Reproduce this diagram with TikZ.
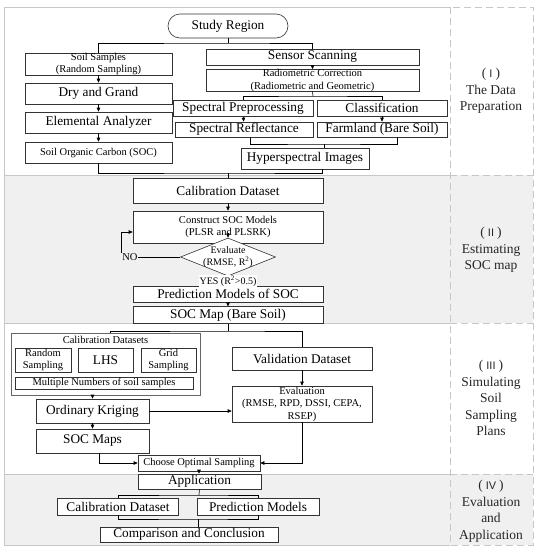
\documentclass[tikz,border=0pt]{standalone}
\usepackage{fontspec}
\setmainfont{Liberation Serif}
\setsansfont{Liberation Sans}
\usepackage{tikz}
\usetikzlibrary{arrows.meta,shapes.geometric}

\newcommand{\bigfont}{\fontsize{13.3}{15}\selectfont}
\newcommand{\smallfont}{\fontsize{10.5}{12.5}\selectfont}
\newcommand{\labfont}{\fontsize{13.5}{16.5}\selectfont}
\newcommand{\rnum}[1]{(\hspace{3pt}{\sffamily\fontsize{11}{11}\selectfont #1}\hspace{3pt})}

\tikzset{
    box/.style={draw=black!80, fill=white, line width=0.6pt, rectangle, inner sep=0pt, align=center},
    bigbox/.style={box, font=\bigfont},
    smallbox/.style={box, font=\smallfont},
    band/.style={draw=black!22, line width=1pt},
    tagcol/.style={draw=black!22, line width=1pt, dash pattern=on 7pt off 4pt},
    tagtext/.style={font=\labfont, align=center, text=black!85},
}

\begin{document}
\begin{tikzpicture}[x=1pt, y=-1pt, line width=0.6pt, >={Triangle[length=4pt,width=3.5pt]}]
    \useasboundingbox (0,0) rectangle (539,550);
    % bands
    \fill[white] (4,7) rectangle (533,175);
    \fill[black!6] (4,175) rectangle (533,323);
    \fill[white] (4,323) rectangle (533,474);
    \fill[black!6] (4,474) rectangle (533,545);
    \draw[band] (450,7) -- (4,7) -- (4,545) -- (450,545);
    \draw[band] (4,175) -- (450,175);
    \draw[band] (4,323) -- (450,323);
    \draw[band] (4,474) -- (450,474);
    \draw[tagcol] (450,7) rectangle (533,545);
    \draw[tagcol] (450,175) -- (533,175);
    \draw[tagcol] (450,323) -- (533,323);
    \draw[tagcol] (450,474) -- (533,474);

    \node[tagtext] (lab1) at (491,91) {\rnum{I}\\The Data\\Preparation};
    \node[tagtext] (lab2) at (491,250) {\rnum{II}\\Estimating\\SOC map};
    \node[tagtext] (lab3) at (491,398) {\rnum{III}\\Simulating\\Soil\\Sampling\\Plans};
    \node[tagtext] (lab4) at (491,511) {\rnum{IV}\\Evaluation\\and\\Application};

    % (I) data preparation
    \node[bigbox, rounded corners=12pt, minimum width=120pt, minimum height=24pt] (study) at (228,26) {Study Region};
    \node[smallbox, minimum width=147pt, minimum height=22pt] (soil) at (98.5,64) {Soil Samples\\(Random Sampling)};
    \node[bigbox, minimum width=147pt, minimum height=21pt] (dry) at (98.5,93.5) {Dry and Grand};
    \node[bigbox, minimum width=147pt, minimum height=21pt] (elem) at (98.5,122.5) {Elemental Analyzer};
    \node[smallbox, minimum width=147pt, minimum height=21pt] (soc) at (98.5,152.5) {Soil Organic Carbon (SOC)};
    \node[bigbox, minimum width=213pt, minimum height=16pt] (sensor) at (312.5,57) {Sensor Scanning};
    \node[smallbox, minimum width=213pt, minimum height=21pt] (radio) at (312.5,80.5) {Radiometric Correction\\(Radiometric and Geometric)};
    \node[bigbox, minimum width=140pt, minimum height=16pt] (sprep) at (243,108) {Spectral Preprocessing};
    \node[bigbox, minimum width=130pt, minimum height=16pt] (classif) at (382,108) {Classification};
    \node[bigbox, minimum width=138pt, minimum height=15pt] (srefl) at (244,129.5) {Spectral Reflectance};
    \node[bigbox, minimum width=130pt, minimum height=15pt] (farm) at (382,129.5) {Farmland (Bare Soil)};
    \node[bigbox, minimum width=128pt, minimum height=21pt] (hyper) at (305,158.5) {Hyperspectral Images};

    \coordinate (j1) at (228,43);
    \coordinate (j2) at (313,96);
    \coordinate (j3) at (324,144);
    \coordinate (j4) at (228,173);
    \draw (study.south) -- (j1);
    \draw (soil.north) |- (j1) -| (sensor.north);
    \draw[->] (soil) -- (dry);
    \draw[->] (dry) -- (elem);
    \draw[->] (elem) -- (soc);
    \draw[->] (sensor) -- (radio);
    \draw (radio.south) -- (j2);
    \draw (sprep.north) |- (j2) -| (classif.north);
    \draw[->] (sprep) -- (srefl);
    \draw[->] (classif) -- (farm);
    \draw ([xshift=6pt]srefl.south) |- (j3) -| ([xshift=15pt]farm.south);
    \draw (j3) -- (j3 |- hyper.north);
    \draw (soc.south) |- (j4) -| ([xshift=17pt]hyper.south);

    % (II) estimating SOC map
    \node[bigbox, minimum width=190pt, minimum height=25pt] (calib) at (228,190.5) {Calibration Dataset};
    \node[smallbox, minimum width=190pt, minimum height=32pt] (cons) at (228,227) {Construct SOC Models\\(PLSR and PLSRK)};
    \node[smallbox, shape=diamond, aspect=2.5, inner sep=-2pt, minimum width=95pt, minimum height=38pt,
        font=\fontsize{10}{12}\selectfont] (eval) at (228,257) {Evaluate\\(RMSE, R\textsuperscript{2})};
    \node[font=\fontsize{10.5}{12}\selectfont, inner sep=0.5pt] (no) at (130,257) {NO};
    \node[bigbox, minimum width=190pt, minimum height=16pt] (pred) at (228,294) {Prediction Models of SOC};
    \node[bigbox, minimum width=190pt, minimum height=16.5pt] (socmap) at (228,315) {SOC Map (Bare Soil)};

    \draw (j4) -- (calib.north);
    \draw[->] (calib) -- (cons);
    \draw[->] ([yshift=10pt]cons.south) -- (eval.north);
    \draw (eval.west) -- (no.east);
    \draw[->] (no.north west) |- ([yshift=-5pt]cons.west);
    \draw[->] (eval.south) -- node[fill=white, inner sep=1pt, font=\fontsize{10}{12}\selectfont] (yes) {YES (R\textsuperscript{2}>0.5)} (pred.north);
    \draw[->] (pred) -- (socmap);

    % (III) simulating soil sampling plans
    \node[box, draw=black!60, minimum width=189pt, minimum height=62pt] (calset) at (105.5,364) {};
    \node[font=\smallfont, inner sep=0pt] (caltitle) at (105.5,339.5) {Calibration Datasets};
    \node[smallbox, minimum width=56pt, minimum height=24pt] (rand) at (43,360) {Random\\Sampling};
    \node[bigbox, minimum width=55pt, minimum height=24pt] (lhs) at (105.5,360) {LHS};
    \node[smallbox, minimum width=55pt, minimum height=24pt] (grid) at (168.5,360) {Grid\\Sampling};
    \node[smallbox, minimum width=178pt, minimum height=12pt] (multi) at (104,383) {Multiple Numbers of soil samples};
    \node[bigbox, minimum width=113pt, minimum height=24pt] (ok) at (92.5,411) {Ordinary Kriging};
    \node[bigbox, minimum width=113pt, minimum height=24pt] (socmaps) at (92.5,441) {SOC Maps};
    \node[bigbox, minimum width=140pt, minimum height=23pt] (valid) at (302,358.5) {Validation Dataset};
    \node[smallbox, minimum width=140pt, minimum height=36pt] (evaluation) at (302,404) {Evaluation\\(RMSE, RPD, DSSI, CEPA,\\RSEP)};
    \node[smallbox, minimum width=122pt, minimum height=16pt] (choose) at (199,463) {Choose Optimal Sampling};

    \coordinate (j5) at (228,331);
    \draw (socmap.south) -- (j5);
    \draw ([xshift=4.5pt]calset.north) |- (j5) -| (valid.north);
    \draw[->] (calset.south -| ok) -- (ok);
    \draw[->] (ok) -- (socmaps);
    \draw[->] (ok.east) -- (ok.east -| evaluation.west);
    \draw[->] (valid) -- (evaluation);
    \draw[->] (evaluation.south) |- (choose.east);
    \draw[->] ([xshift=6.5pt]socmaps.south) |- (choose.west);

    % (IV) evaluation and application
    \node[bigbox, minimum width=123pt, minimum height=15pt] (app) at (199.5,481.5) {Application};
    \node[bigbox, minimum width=121pt, minimum height=17pt] (calib2) at (118,506.5) {Calibration Dataset};
    \node[bigbox, minimum width=122pt, minimum height=17pt] (predm) at (258,506.5) {Prediction Models};
    \node[bigbox, minimum width=178pt, minimum height=15pt] (comp) at (189,534.5) {Comparison and Conclusion};

    \coordinate (j6) at (199,495);
    \coordinate (j7) at (198,519);
    \draw[->] (choose.south) -- (choose.south |- app.north);
    \draw (app.south) -- (j6);
    \draw (calib2.north) |- (j6) -| (predm.north);
    \draw (calib2.south) |- (j7) -| (predm.south);
    \draw (j7) -- (j7 |- comp.north);
\end{tikzpicture}
\end{document}
